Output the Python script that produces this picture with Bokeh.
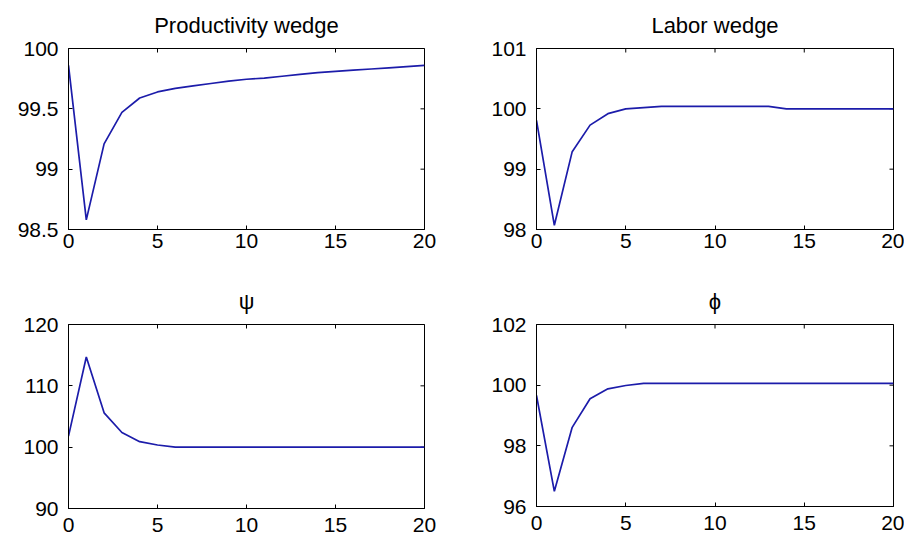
import math
from bokeh.plotting import figure
from bokeh.layouts import column, row
from bokeh.models import Range1d, FixedTicker
from bokeh.embed import file_html
from bokeh.resources import INLINE

# ---- data ----
periods = [0, 1, 2, 3, 4, 5, 6, 7, 8, 9, 10, 11, 12, 13, 14, 15, 16, 17, 18, 19, 20]
productivity = [99.86, 98.58, 99.21, 99.47, 99.59, 99.64, 99.67, 99.69, 99.71, 99.73, 99.745,
                99.755, 99.77, 99.785, 99.80, 99.81, 99.82, 99.83, 99.84, 99.85, 99.86]
labor = [99.81, 98.07, 99.29, 99.73, 99.92, 100.0, 100.02, 100.04, 100.04, 100.04, 100.04,
         100.04, 100.04, 100.04, 100.0, 100.0, 100.0, 100.0, 100.0, 100.0, 100.0]
psi = [101.8, 114.7, 105.6, 102.4, 100.9, 100.35, 100.0, 100.0, 100.0, 100.0, 100.0,
       100.0, 100.0, 100.0, 100.0, 100.0, 100.0, 100.0, 100.0, 100.0, 100.0]
phi = [99.66, 96.5, 98.61, 99.55, 99.88, 99.99, 100.06, 100.06, 100.06, 100.06, 100.06,
       100.06, 100.06, 100.06, 100.06, 100.06, 100.06, 100.06, 100.06, 100.06, 100.06]

x_ticks = [0, 5, 10, 15, 20]
prod_ticks = [98.5, 99, 99.5, 100]
prod_labels = ["98.5", "99", "99.5", "100"]
labor_ticks = [98, 99, 100, 101]
labor_labels = ["98", "99", "100", "101"]
psi_ticks = [90, 100, 110, 120]
psi_labels = ["90", "100", "110", "120"]
phi_ticks = [96, 98, 100, 102]
phi_labels = ["96", "98", "100", "102"]

titles = ["Productivity wedge", "Labor wedge", "\u03c8", "\u03d5"]

FONT = "Liberation Sans"
LINE = "#1c1caa"


def style_axis(ax, ticks, labels=None, standoff=6):
    ax.ticker = FixedTicker(ticks=ticks)
    ax.major_tick_in = 4
    ax.major_tick_out = 0
    ax.minor_tick_line_color = None
    ax.major_tick_line_color = "black"
    ax.axis_line_color = "black"
    ax.major_label_text_font = FONT
    ax.major_label_text_color = "black"
    ax.major_label_text_font_size = "21px"
    ax.major_label_standoff = standoff
    if labels is not None:
        ax.major_label_overrides = {t: l for t, l in zip(ticks, labels)}


def make(title, y, ylo, yhi, yticks, ylabels, ml, mr, mt, mb, fw, fh, xstand):
    p = figure(frame_width=fw, frame_height=fh,
               min_border_left=ml, min_border_right=mr, min_border_top=mt, min_border_bottom=mb,
               x_range=Range1d(0, 20), y_range=Range1d(ylo, yhi),
               output_backend="svg", toolbar_location=None)
    p.title.text = title
    p.title.align = "center"
    p.title.text_font = FONT
    p.title.text_font_size = "22px"
    p.title.text_font_style = "normal"
    p.title.text_color = "black"
    p.title.standoff = 21
    p.xgrid.visible = False
    p.ygrid.visible = False
    p.outline_line_color = "black"
    p.outline_line_width = 1
    p.outline_line_alpha = 1
    p.background_fill_color = "white"
    p.border_fill_color = "white"
    style_axis(p.xaxis[0], x_ticks, standoff=xstand)
    style_axis(p.yaxis[0], yticks, ylabels, standoff=10)
    # mirrored inward ticks on the top and right edges (box on)
    p.scatter(x_ticks, [yhi] * len(x_ticks), marker="dash", size=8, angle=math.pi / 2,
              line_color="black", line_width=1)
    p.scatter([20] * len(yticks), yticks, marker="dash", size=8, angle=0,
              line_color="black", line_width=1)
    p.line(periods, y, line_color=LINE, line_width=1.7)
    return p


p1 = make(titles[0], productivity, 98.5, 100, prod_ticks, prod_labels, 68, 31, 48, 44, 356, 181, 4)
p2 = make(titles[1], labor, 98, 101, labor_ticks, labor_labels, 81, 11, 48, 44, 357, 181, 4)
p3 = make(titles[2], psi, 90, 120, psi_ticks, psi_labels, 68, 31, 49, 32, 356, 184, 9)
p4 = make(titles[3], phi, 96, 102, phi_ticks, phi_labels, 81, 11, 51, 32, 357, 182, 9)

layout = column(row(p1, p2), row(p3, p4))

with open("out.html", "w") as f:
    f.write(file_html(layout, INLINE))
